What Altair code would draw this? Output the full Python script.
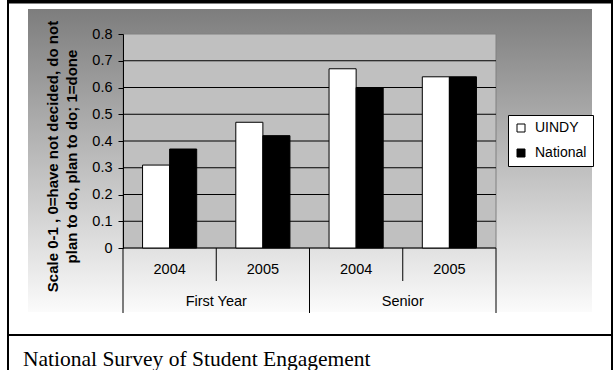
import altair as alt
import pandas as pd

# Chart data
groups = ["First Year", "First Year", "Senior", "Senior"]
years = ["2004", "2005", "2004", "2005"]
uindy = [0.31, 0.47, 0.67, 0.64]
national = [0.37, 0.42, 0.60, 0.64]
series = ["UINDY", "National"]
y_ticks = [0, 0.1, 0.2, 0.3, 0.4, 0.5, 0.6, 0.7, 0.8]
grid_values = [0, 0.1, 0.2, 0.3, 0.4, 0.5, 0.6, 0.7]
y_title = ["Scale 0-1 , 0=have not decided, do not", "plan to do, plan to do; 1=done"]
caption = "National Survey of Student Engagement"

cells = [f"{g} {y}" for g, y in zip(groups, years)]
group_names = list(dict.fromkeys(groups))

rows = []
for c, g, yr, u, n in zip(cells, groups, years, uindy, national):
    rows.append({"cell": c, "group": g, "year": yr, "series": "UINDY", "value": u})
    rows.append({"cell": c, "group": g, "year": yr, "series": "National", "value": n})
bars_df = pd.DataFrame(rows)
cells_df = pd.DataFrame({"cell": cells, "year": years, "group": groups})
groups_df = pd.DataFrame({"group": group_names})
minor_df = cells_df[cells_df["year"] == years[1]]
grid_df = pd.DataFrame({"v": grid_values})

W, H = 373, 214
SANS = "Liberation Sans"
SERIF = "Liberation Serif"
one = alt.Data(values=[{}])

cell_scale = alt.Scale(domain=cells, paddingInner=0, paddingOuter=0)
group_scale = alt.Scale(domain=group_names, paddingInner=0, paddingOuter=0)
y_scale = alt.Scale(domain=[0, 0.8], nice=False)
y_axis = alt.Axis(
    values=y_ticks, format=".1~f", grid=False, zindex=1,
    labelFont=SANS, labelFontSize=14.5, labelColor="black", labelPadding=6,
    tickColor="black", tickSize=5, domainColor="black",
    title=y_title, titleFont=SANS, titleFontSize=15, titleFontWeight="bold",
    titleColor="black", titleLineHeight=19, titleAngle=270,
    titleAlign="center", titleBaseline="middle", titleX=-71, titleY=122,
)

# Page frame and chart backdrop
backdrop = alt.Chart(one).mark_rect(
    fill=alt.Gradient(
        gradient="linear",
        stops=[alt.GradientStop(color="#7d7d7d", offset=0),
               alt.GradientStop(color="#fbfbfb", offset=1)],
        x1=0, x2=0, y1=0, y2=1,
    )
).encode(x=alt.value(-95), x2=alt.value(469), y=alt.value(-25), y2=alt.value(278))

plot_bg = alt.Chart(one).mark_rect(fill="#c0c0c0", stroke="#808080", strokeWidth=1).encode(
    x=alt.value(0), x2=alt.value(W), y=alt.value(0), y2=alt.value(H)
)

frame_top = alt.Chart(one).mark_rule(color="black", strokeWidth=3.5).encode(
    x=alt.value(-116), x2=alt.value(490), y=alt.value(-32.3)
)
frame_mid = alt.Chart(one).mark_rule(color="black", strokeWidth=2).encode(
    x=alt.value(-116), x2=alt.value(490), y=alt.value(301)
)
frame_left = alt.Chart(one).mark_rule(color="black", strokeWidth=2).encode(
    x=alt.value(-115), y=alt.value(-34), y2=alt.value(336)
)
frame_right = alt.Chart(one).mark_rule(color="black", strokeWidth=2).encode(
    x=alt.value(489), y=alt.value(-34), y2=alt.value(336)
)

grid = alt.Chart(grid_df).mark_rule(color="black", strokeWidth=1).encode(
    y=alt.Y("v:Q", scale=y_scale, axis=y_axis),
    x=alt.value(0), x2=alt.value(W),
)

bars = alt.Chart(bars_df).mark_bar(stroke="black", strokeWidth=1).encode(
    x=alt.X("cell:N", scale=cell_scale, axis=None, sort=cells),
    xOffset=alt.XOffset("series:N", sort=series,
                        scale=alt.Scale(domain=series, paddingInner=0, paddingOuter=0.722)),
    y=alt.Y("value:Q", scale=y_scale, axis=y_axis),
    fill=alt.Fill(
        "series:N",
        scale=alt.Scale(domain=series, range=["white", "black"]),
        legend=alt.Legend(
            title=None, orient="none", legendX=385, legendY=81,
            symbolType="square", symbolSize=64, symbolStrokeColor="black",
            symbolStrokeWidth=1, labelFont=SANS, labelFontSize=14,
            labelColor="black", labelOffset=7, rowPadding=11, padding=6,
            strokeColor="black", fillColor="white",
        ),
    ),
)

year_labels = alt.Chart(cells_df).mark_text(
    font=SANS, fontSize=14.5, color="black", baseline="middle"
).encode(
    x=alt.X("cell:N", scale=cell_scale, axis=None),
    y=alt.value(236),
    text="year:N",
)

group_labels = alt.Chart(groups_df).mark_text(
    font=SANS, fontSize=14.5, color="black", baseline="middle"
).encode(
    x=alt.X("group:N", scale=group_scale, axis=None),
    y=alt.value(268),
    text="group:N",
)

minor_div = alt.Chart(minor_df).mark_rule(color="black", strokeWidth=1).encode(
    x=alt.X("cell:N", scale=cell_scale, axis=None, bandPosition=0),
    y=alt.value(H), y2=alt.value(247),
)
major_div = alt.Chart(groups_df).mark_rule(color="black", strokeWidth=1).encode(
    x=alt.X("group:N", scale=group_scale, axis=None, bandPosition=0),
    y=alt.value(H), y2=alt.value(279),
)
end_div = alt.Chart(groups_df.tail(1)).mark_rule(color="black", strokeWidth=1).encode(
    x=alt.X("group:N", scale=group_scale, axis=None, bandPosition=1),
    y=alt.value(H), y2=alt.value(279),
)

caption_text = alt.Chart(one).mark_text(
    font=SERIF, fontSize=21.5, color="black", align="left", baseline="alphabetic"
).encode(x=alt.value(-100), y=alt.value(331.5), text=alt.value(caption))

chart = alt.layer(
    backdrop, plot_bg, grid, bars, year_labels, group_labels,
    minor_div, major_div, end_div,
    frame_top, frame_mid, frame_left, frame_right, caption_text,
).resolve_scale(x="independent").properties(
    width=W, height=H,
    autosize=alt.AutoSizeParams(type="none"),
    padding={"left": 123, "top": 34, "right": 117, "bottom": 122},
    background="white",
).configure_view(stroke=None)

chart.save("out.html", embed_options={"renderer": "svg", "actions": False})
